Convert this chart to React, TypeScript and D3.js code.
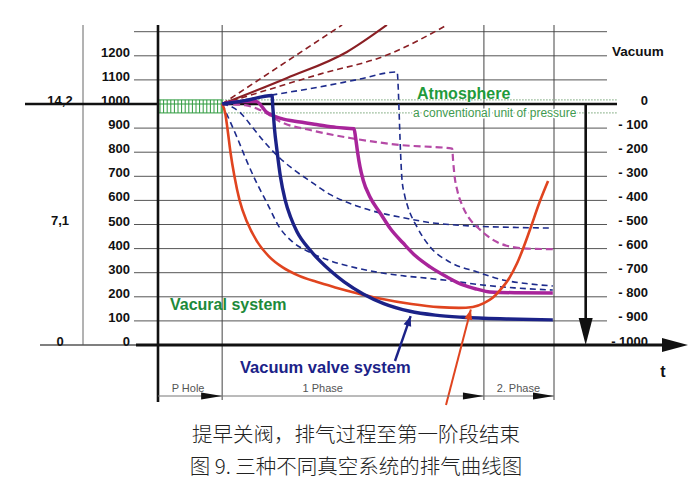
import React from "react";
import * as d3 from "d3";

type Pt = [number, number];

// x: time in % of the cycle (P Hole + 1st phase + 2nd phase = 0..100)
// y: absolute pressure in mbar
const gridValues = [100, 200, 300, 400, 500, 600, 700, 800, 900, 1100, 1200, 1300];
const pressureTicks = [0, 100, 200, 300, 400, 500, 600, 700, 800, 900, 1000, 1100, 1200];
const vacuumTicks = [1000, 900, 800, 700, 600, 500, 400, 300, 200, 100, 0];
const vacuumLabels = ["0", "- 100", "- 200", "- 300", "- 400", "- 500", "- 600", "- 700", "- 800", "- 900", "- 1000"];
const outerTicks = [1000, 500, 0];
const outerLabels = ["14,2", "7,1", "0"];
const phaseBounds = [0, 16.2, 82.3, 100];
const phaseNames = ["P Hole", "1 Phase", "2. Phase"];
const phaseLabelAt = [7.6, 41.6, 91.0];
const atmosphereBand = [963, 1017];

// curves
const maroonSolid: Pt[] = [[16.2, 1000], [32.6, 1108], [47.7, 1216], [57.8, 1328]];
const maroonDashA: Pt[] = [[16.2, 1000], [46.5, 1328]];
const maroonDashB: Pt[] = [[16.2, 1000], [40.9, 1124], [57.8, 1203], [73, 1328]];
const vacuumValve: Pt[] = [
  [16.2, 1000], [22, 1014], [28.8, 1035], [29.0, 985], [29.4, 900], [30.1, 800], [30.9, 700],
  [32.1, 602], [33.5, 530], [35.1, 470], [38.4, 394], [43.4, 310], [47, 262], [51.8, 212],
  [57, 172], [63.6, 140], [70, 124], [77, 115], [88, 108], [99.7, 104],
];
const vacural: Pt[] = [
  [16.2, 1000], [17.0, 960], [17.6, 890], [18.3, 800], [19.3, 700], [20.6, 600], [22.5, 510],
  [25, 430], [28, 368], [31.5, 322], [35.5, 288], [40, 262], [45, 238], [50, 216], [56, 193],
  [64, 170], [71, 157], [76, 154], [79.5, 158], [82.3, 174], [84.5, 196], [86.4, 228],
  [88.6, 275], [90.7, 340], [93.9, 477], [96.3, 590], [98.5, 680],
];
const blueDashA: Pt[] = [
  [16.2, 1000], [18, 935], [20, 860], [22.5, 760], [25, 670], [27.5, 590], [30.8, 485],
  [34, 428], [38.4, 384], [43.4, 350], [50, 320], [56.1, 300], [62, 287], [68.7, 276],
  [75, 264], [81.3, 250], [90, 237], [99.7, 228],
];
const blueDashB: Pt[] = [
  [16.2, 1000], [19, 985], [21, 960], [24, 900], [27, 840], [30.8, 775], [34.5, 725],
  [38.4, 680], [43.4, 625], [50, 578], [56.1, 548], [62, 528], [68.7, 508], [75, 498],
  [81.3, 492], [90, 488], [99.7, 485],
];
const blueDashC: Pt[] = [
  [16.2, 1000], [28, 1035], [40.9, 1071], [50, 1100], [60.4, 1133], [60.6, 1090], [60.9, 960],
  [61.2, 820], [61.6, 690], [62.3, 620], [63.1, 573], [65.4, 490], [68.7, 407], [73.7, 344],
  [80.6, 303], [87.1, 270], [93, 255], [99.7, 245],
];
const magentaSolid: Pt[] = [
  [16.2, 1000], [21, 1010], [24.8, 1010], [27.5, 965], [31, 940], [35.9, 925], [40, 915],
  [45, 903], [49.5, 897], [49.9, 860], [50.4, 800], [51, 740], [51.8, 685], [53.5, 615],
  [56.1, 548], [58.8, 480], [61.9, 423], [65, 370], [68.7, 324], [73, 282], [77, 249],
  [80.5, 232], [83.8, 220], [90, 217], [99.7, 216],
];
const magentaDash: Pt[] = [
  [16.2, 1000], [22, 995], [25.8, 975], [31.6, 921], [38.4, 892], [48.5, 859], [61.1, 830],
  [74.3, 815], [74.5, 770], [74.9, 700], [75.6, 640], [77, 573], [78.6, 525], [80.6, 490],
  [83, 455], [85.6, 427], [88, 412], [91.4, 402], [95, 399], [99.7, 398],
];

const series = [
  { data: maroonDashA, color: "#8a1f24", width: 1.6, dash: "6,4" },
  { data: maroonDashB, color: "#8a1f24", width: 1.6, dash: "6,4" },
  { data: maroonSolid, color: "#8a1f24", width: 2.2, dash: null },
  { data: blueDashC, color: "#1d2b8c", width: 1.6, dash: "6,4" },
  { data: blueDashB, color: "#1d2b8c", width: 1.6, dash: "6,4" },
  { data: blueDashA, color: "#1d2b8c", width: 1.6, dash: "6,4" },
  { data: magentaDash, color: "#b54aa6", width: 2.2, dash: "7,4" },
  { data: magentaSolid, color: "#a8249a", width: 3.5, dash: null },
  { data: vacural, color: "#e0441f", width: 2.6, dash: null },
  { data: vacuumValve, color: "#1b2288", width: 3.4, dash: null },
];

const FONT = "'Liberation Sans', Arial, sans-serif";

function head(tip: Pt, from: Pt, len: number, half: number) {
  const a = Math.atan2(tip[1] - from[1], tip[0] - from[0]);
  const bx = tip[0] - len * Math.cos(a);
  const by = tip[1] - len * Math.sin(a);
  const px = -Math.sin(a) * half;
  const py = Math.cos(a) * half;
  return `${tip[0]},${tip[1]} ${bx + px},${by + py} ${bx - px},${by - py}`;
}

export default function App() {
  const x = d3.scaleLinear().domain([0, 100]).range([158, 554]);
  const y = d3.scaleLinear().domain([0, 1000]).range([345, 104]);
  const top = 25;
  const gridL = 134;
  const gridR = 607;
  const barY = 396;
  const line = d3
    .line<Pt>()
    .x((d) => x(d[0]))
    .y((d) => y(d[1]))
    .curve(d3.curveMonotoneX);

  const downX = x(108);
  const axisEnd = 688;
  const hatch = d3.range(x(0) + 2, x(phaseBounds[1]), 3.6);

  const valveTip: Pt = [x(63.8), y(120)];
  const valveTail: Pt = [395, 361];
  const vacuralTip: Pt = [x(79), y(147)];
  const vacuralTail: Pt = [446, 405];

  return (
    <svg
      width={696}
      height={483}
      style={{ position: "absolute", left: 0, top: 0, background: "#fff" }}
      fontFamily={FONT}
    >
      <rect width={696} height={483} fill="#fff" />
      <defs>
        <clipPath id="plot">
          <rect x={x(0)} y={top} width={470} height={330} />
        </clipPath>
      </defs>

      {/* thin grid */}
      {gridValues.map((v) => (
        <line key={v} x1={gridL} x2={gridR} y1={y(v)} y2={y(v)} stroke="#555" strokeWidth={1} />
      ))}
      {/* vertical separators */}
      <line x1={83} x2={83} y1={top} y2={y(0)} stroke="#666" strokeWidth={1} />
      {phaseBounds.slice(1).map((t) => (
        <line key={t} x1={x(t)} x2={x(t)} y1={top} y2={barY + 4} stroke="#444" strokeWidth={1} />
      ))}

      {/* atmosphere band */}
      {atmosphereBand.map((v) => (
        <line
          key={v}
          x1={x(phaseBounds[1])}
          x2={617}
          y1={y(v)}
          y2={y(v)}
          stroke="#8fb58f"
          strokeWidth={1.2}
          strokeDasharray="1.5,1.5"
        />
      ))}
      <rect
        x={x(0)}
        y={y(atmosphereBand[1])}
        width={x(phaseBounds[1]) - x(0)}
        height={y(atmosphereBand[0]) - y(atmosphereBand[1])}
        fill="#fff"
        stroke="#2e9a3e"
        strokeWidth={1}
      />
      {hatch.map((hx) => (
        <line
          key={hx}
          x1={hx}
          x2={hx}
          y1={y(atmosphereBand[1])}
          y2={y(atmosphereBand[0])}
          stroke="#2e9a3e"
          strokeWidth={1}
        />
      ))}
      <line
        x1={x(0)}
        x2={x(phaseBounds[1])}
        y1={y(1000)}
        y2={y(1000)}
        stroke="#2e9a3e"
        strokeWidth={1}
      />

      {/* thick reference lines */}
      <line x1={25} x2={x(0)} y1={y(1000)} y2={y(1000)} stroke="#111" strokeWidth={2.4} />
      <line x1={x(phaseBounds[1])} x2={617} y1={y(1000)} y2={y(1000)} stroke="#111" strokeWidth={2.4} />
      <line x1={40} x2={136} y1={y(0)} y2={y(0)} stroke="#555" strokeWidth={1.6} />
      <line x1={136} x2={axisEnd - 20} y1={y(0)} y2={y(0)} stroke="#111" strokeWidth={3} />
      <polygon points={head([axisEnd, y(0)], [136, y(0)], 26, 7)} fill="#111" />
      <line x1={x(0)} x2={x(0)} y1={top} y2={402} stroke="#111" strokeWidth={2.6} />
      <line x1={downX} x2={downX} y1={y(1000)} y2={y(0) - 20} stroke="#111" strokeWidth={2.6} />
      <polygon points={head([downX, y(0)], [downX, y(1000)], 27, 7)} fill="#111" />

      {/* curves */}
      <g clipPath="url(#plot)">
        {series.map((s, i) => (
          <path
            key={i}
            d={line(s.data) ?? ""}
            fill="none"
            stroke={s.color}
            strokeWidth={s.width}
            strokeDasharray={s.dash ?? undefined}
            strokeLinejoin="round"
          />
        ))}
      </g>

      {/* pointers to the curves */}
      <line x1={valveTail[0]} y1={valveTail[1]} x2={valveTip[0]} y2={valveTip[1]} stroke="#1b2288" strokeWidth={2.4} />
      <polygon points={head(valveTip, valveTail, 10, 4)} fill="#1b2288" />
      <line x1={vacuralTail[0]} y1={vacuralTail[1]} x2={vacuralTip[0]} y2={vacuralTip[1]} stroke="#e0441f" strokeWidth={2} />
      <polygon points={head(vacuralTip, vacuralTail, 10, 4)} fill="#e0441f" />

      {/* phase bar */}
      <line x1={x(0)} x2={x(100)} y1={barY} y2={barY} stroke="#777" strokeWidth={1} />
      {phaseBounds.slice(1).map((t) => (
        <polygon key={t} points={head([x(t), barY], [x(0), barY], 21, 3.5)} fill="#111" />
      ))}
      {phaseNames.map((n, i) => (
        <text key={n} x={x(phaseLabelAt[i])} y={391.5} textAnchor="middle" fontSize={11} fill="#555">
          {n}
        </text>
      ))}

      {/* axis labels */}
      {pressureTicks.map((v) => (
        <text key={v} x={130} y={y(v) + 1} textAnchor="end" fontSize={13} fontWeight="bold" fill="#111">
          {v}
        </text>
      ))}
      {vacuumTicks.map((v, i) => (
        <text key={v} x={648} y={y(v) + 0.5} textAnchor="end" fontSize={13} fontWeight="bold" fill="#111">
          {vacuumLabels[i]}
        </text>
      ))}
      {outerTicks.map((v, i) => (
        <text key={v} x={60} y={y(v) + 0.5} textAnchor="middle" fontSize={13} fontWeight="bold" fill="#111">
          {outerLabels[i]}
        </text>
      ))}
      <text x={612} y={56} fontSize={13.5} fontWeight="bold" fill="#111">Vacuum</text>
      <text x={663} y={377} textAnchor="middle" fontSize={16} fontWeight="bold" fill="#111">t</text>

      {/* annotations */}
      <text x={417} y={99} fontSize={16} fontWeight="bold" fill="#1f9a3c">Atmosphere</text>
      <text
        x={413}
        y={117}
        fontSize={12}
        fill="#3f9a50"
        stroke="#fff"
        strokeWidth={3}
        paintOrder="stroke"
      >
        a conventional unit of pressure
      </text>
      <text x={170} y={310} fontSize={16} fontWeight="bold" fill="#1d8a3a">Vacural system</text>
      <text x={240} y={373} fontSize={16.5} fontWeight="bold" fill="#1b2288">Vacuum valve system</text>

      {/* caption */}
      <g fontFamily="'Noto Sans CJK SC', sans-serif" fontSize={20.5} fill="#222" textAnchor="middle" fontWeight={300}>
        <text x={356} y={442}>提早关阀，排气过程至第一阶段结束</text>
        <text x={356} y={474}>图 9. 三种不同真空系统的排气曲线图</text>
      </g>
    </svg>
  );
}
